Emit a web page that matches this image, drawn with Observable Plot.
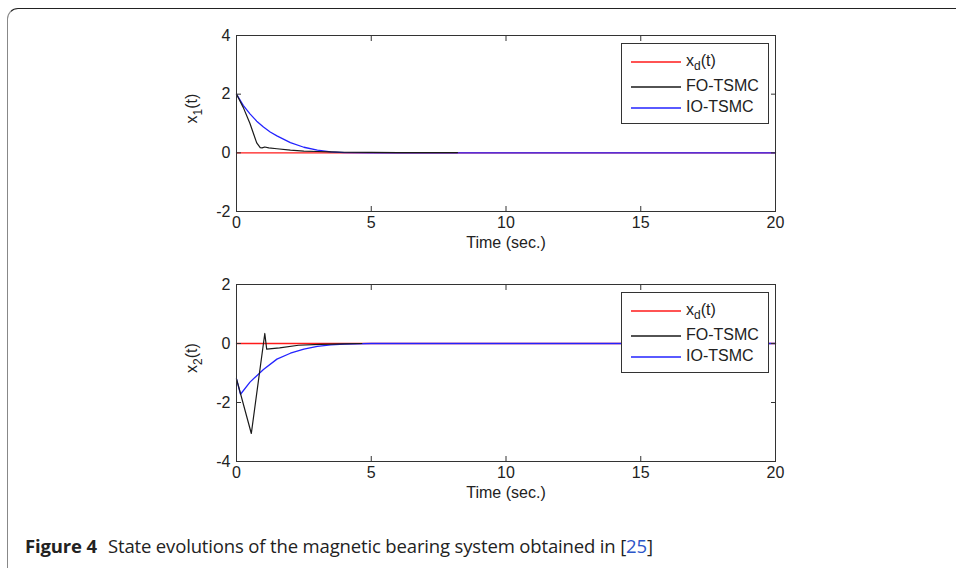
<!DOCTYPE html>
<html>
<head>
<meta charset="utf-8">
<script src="https://cdn.jsdelivr.net/npm/d3@7"></script>
<script src="https://cdn.jsdelivr.net/npm/@observablehq/plot@0.6"></script>
<style>
  html, body { margin: 0; padding: 0; background: #fff; }
  #root { position: relative; width: 956px; height: 568px; overflow: hidden; }
  .frame-border { position: absolute; left: 7px; top: 8px; width: 1200px; height: 800px;
    border-top: 1.5px solid #222; border-left: 1.5px solid #888; border-top-left-radius: 11px; }
  .panel { position: absolute; left: 0; }
  .legend { position: absolute; left: 621px; width: 146px; height: 79px; background: #fff;
    border: 1px solid #333; font-family: "Liberation Sans", Arial, sans-serif; font-size: 16px; color: #222; }
  .legend .row { position: absolute; left: 0; height: 20px; width: 140px; }
  .legend svg { position: absolute; left: 9px; top: -2px; }
  .legend .lbl { position: absolute; left: 64px; top: -10px; white-space: nowrap; line-height: 18px; }
  .legend sub { font-size: 12px; vertical-align: -4px; line-height: 0; }
  .caption { position: absolute; left: 25px; top: 537px; font-family: "Open Sans", sans-serif;
    font-size: 18.5px; line-height: 1; color: #222; white-space: nowrap; letter-spacing: -0.15px; }
  .caption b { font-weight: 700; margin-right: 11px; }
  .caption .ref { color: #2b55c8; }
</style>
</head>
<body>
<div id="root">
  <div class="frame-border"></div>
</div>
<script>
// ---- data ----
const xTicks = [0, 5, 10, 15, 20];
const y1Ticks = [-2, 0, 2, 4];
const y2Ticks = [-4, -2, 0, 2];
const xLabel = "Time (sec.)";
const y1Label = ["x", "1", "(t)"];
const y2Label = ["x", "2", "(t)"];
const seriesNames = [["x", "d", "(t)"], ["FO-TSMC"], ["IO-TSMC"]];
const seriesColors = ["#ff1a1a", "#1a1a1a", "#2323ff"];

// reference trajectory x_d(t)
const tRef = [0, 20];
const xRef = [0, 0];

// panel 1: x1(t)
const t1FO = [0, 0.1, 0.25, 0.5, 0.75, 0.88, 0.95, 1.05, 1.2, 1.5, 2.0, 2.5, 3.0, 3.5, 4.0, 5.0, 6.0, 7.0, 8.2];
const x1FO = [2.0, 1.82, 1.55, 1.0, 0.34, 0.18, 0.17, 0.2, 0.17, 0.14, 0.09, 0.06, 0.045, 0.03, 0.02, 0.015, 0.01, 0.01, 0.01];
const t1IO = [0, 0.25, 0.5, 0.75, 1.0, 1.25, 1.5, 2.0, 2.5, 3.0, 3.5, 4.0, 5.0, 20];
const x1IO = [2.0, 1.62, 1.33, 1.08, 0.88, 0.71, 0.58, 0.35, 0.19, 0.09, 0.03, 0.01, 0, 0];

// panel 2: x2(t)
const t2FO = [0, 0.55, 1.05, 1.12, 1.6, 2.3, 3.1, 4.0, 4.65];
const x2FO = [-1.2, -3.05, 0.34, -0.19, -0.15, -0.06, -0.03, -0.01, 0];
const t2IO = [0, 0.15, 0.5, 1.0, 1.5, 2.0, 2.5, 3.0, 3.5, 4.0, 5.0, 20];
const x2IO = [-1.2, -1.72, -1.31, -0.88, -0.53, -0.33, -0.19, -0.1, -0.05, -0.02, 0, 0];

const zip = (t, v) => t.map((d, i) => ({t: d, v: v[i]}));
const NS = "http://www.w3.org/2000/svg";

function panel({yDomain, yTicks, yLabel, fo, io, top}) {
  const svg = Plot.plot({
    width: 956, height: 260,
    marginLeft: 236, marginRight: 181, marginTop: top, marginBottom: 49,
    x: {domain: [0, 20]},
    y: {domain: yDomain},
    style: {fontFamily: "'Liberation Sans', Arial, sans-serif", fontSize: "16px", color: "#222", background: "transparent", overflow: "visible"},
    marks: [
      Plot.line(zip(tRef, xRef), {x: "t", y: "v", stroke: seriesColors[0], strokeWidth: 1.3}),
      Plot.line(io, {x: "t", y: "v", stroke: seriesColors[2], strokeWidth: 1.3}),
      Plot.line(fo, {x: "t", y: "v", stroke: seriesColors[1], strokeWidth: 1.2}),
      Plot.frame({stroke: "#333", strokeWidth: 1}),
      Plot.axisX({ticks: xTicks, anchor: "bottom", tickSize: -5, tickFormat: () => "", label: null, stroke: "#333"}),
      Plot.axisX({ticks: xTicks, anchor: "top", tickSize: -5, tickFormat: () => "", label: null, stroke: "#333"}),
      Plot.axisY({ticks: yTicks, anchor: "left", tickSize: -5, tickFormat: () => "", label: null, stroke: "#333"}),
      Plot.axisY({ticks: yTicks, anchor: "right", tickSize: -5, tickFormat: () => "", label: null, stroke: "#333"}),
      Plot.axisX({ticks: xTicks, anchor: "bottom", tickSize: 0, tickPadding: 5, label: null, fill: "#222", fontSize: 16}),
      Plot.axisY({ticks: yTicks, anchor: "left", tickSize: 0, tickPadding: 6, label: null, fill: "#222", fontSize: 16, tickFormat: d => String(d)}),
      Plot.text([xLabel], {frameAnchor: "bottom", dy: 36, text: d => d, fill: "#222", fontSize: 16}),
      Plot.text([yLabel.join("")], {frameAnchor: "left", dx: -45, rotate: -90, text: d => d, fill: "#222", fontSize: 16, className: "ylab"})
    ]
  });
  // render subscript of the y label as tspans (still real text)
  const t = svg.querySelector(".ylab text");
  if (t) {
    t.textContent = "";
    const a = document.createElementNS(NS, "tspan"); a.textContent = yLabel[0];
    const b = document.createElementNS(NS, "tspan"); b.textContent = yLabel[1];
    b.setAttribute("dy", "5"); b.setAttribute("font-size", "12");
    const c = document.createElementNS(NS, "tspan"); c.textContent = yLabel[2];
    c.setAttribute("dy", "-5");
    t.append(a, b, c);
  }
  return svg;
}

function legend(top) {
  const div = document.createElement("div");
  div.className = "legend";
  div.style.top = top + "px";
  const rowsY = [18, 43, 64];
  seriesNames.forEach((name, i) => {
    const row = document.createElement("div");
    row.className = "row";
    row.style.top = rowsY[i] + "px";
    const sw = document.createElementNS(NS, "svg");
    sw.setAttribute("width", "50"); sw.setAttribute("height", "4");
    const ln = document.createElementNS(NS, "line");
    ln.setAttribute("x1", "0"); ln.setAttribute("x2", "50");
    ln.setAttribute("y1", "2"); ln.setAttribute("y2", "2");
    ln.setAttribute("stroke", seriesColors[i]); ln.setAttribute("stroke-width", "1.4");
    sw.appendChild(ln);
    const lbl = document.createElement("div");
    lbl.className = "lbl";
    if (name.length === 3) {
      lbl.append(name[0]);
      const s = document.createElement("sub"); s.textContent = name[1];
      lbl.append(s, name[2]);
    } else lbl.textContent = name[0];
    row.append(sw, lbl);
    div.appendChild(row);
  });
  return div;
}

const root = document.getElementById("root");
const p1 = panel({yDomain: [-2, 4], yTicks: y1Ticks, yLabel: y1Label, fo: zip(t1FO, x1FO), io: zip(t1IO, x1IO), top: 35});
p1.classList.add("panel"); p1.style.top = "0px";
root.appendChild(p1);
root.appendChild(legend(43));

const p2 = panel({yDomain: [-4, 2], yTicks: y2Ticks, yLabel: y2Label, fo: zip(t2FO, x2FO), io: zip(t2IO, x2IO), top: 34});
p2.classList.add("panel"); p2.style.top = "250px";
root.appendChild(p2);
root.appendChild(legend(292));

const cap = document.createElement("div");
cap.className = "caption";
cap.innerHTML = "<b>Figure 4</b>State evolutions of the magnetic bearing system obtained in [<span class='ref'>25</span>]";
root.appendChild(cap);
</script>
</body>
</html>
